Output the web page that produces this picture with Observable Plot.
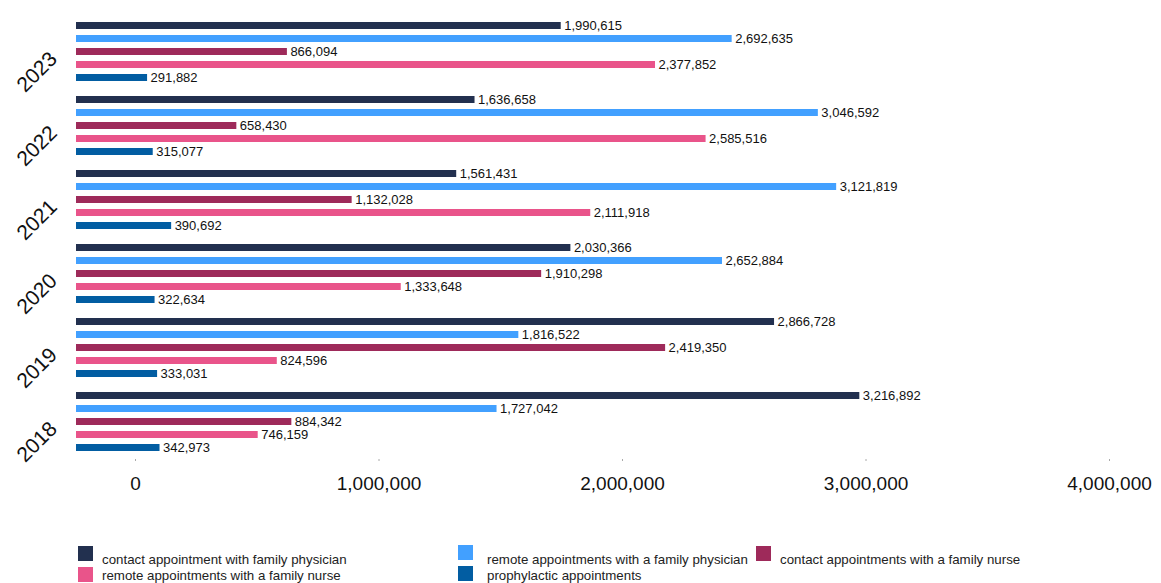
<!DOCTYPE html>
<html>
<head>
<meta charset="utf-8">
<script src="https://cdn.jsdelivr.net/npm/d3@7"></script>
<script src="https://cdn.jsdelivr.net/npm/@observablehq/plot@0.6"></script>
<style>
  body { margin: 0; background: #fff; font-family: "Liberation Sans", Arial, sans-serif; }
  #wrap { position: relative; width: 1161px; height: 583px; overflow: hidden; }
  .lg { position: absolute; font-size: 13.3px; color: #222; white-space: nowrap; }
  .sw { position: absolute; width: 15px; height: 15px; }
</style>
</head>
<body>
<div id="wrap"></div>
<script>
const years = ["2018", "2019", "2020", "2021", "2022", "2023"];
const seriesNames = [
  "contact appointment with family physician",
  "remote appointments with a family physician",
  "contact appointments with a family nurse",
  "remote appointments with a family nurse",
  "prophylactic appointments"
];
const colors = ["#22304f", "#42a0ff", "#9e2a5a", "#e9548a", "#025da2"];
const contactPhysician = [3216892, 2866728, 2030366, 1561431, 1636658, 1990615];
const remotePhysician  = [1727042, 1816522, 2652884, 3121819, 3046592, 2692635];
const contactNurse     = [884342, 2419350, 1910298, 1132028, 658430, 866094];
const remoteNurse      = [746159, 824596, 1333648, 2111918, 2585516, 2377852];
const prophylactic     = [342973, 333031, 322634, 390692, 315077, 291882];
const xTicks = [0, 1000000, 2000000, 3000000, 4000000];

const seriesValues = [contactPhysician, remotePhysician, contactNurse, remoteNurse, prophylactic];
const data = [];
years.forEach((yr, i) => {
  seriesNames.forEach((s, j) => data.push({year: yr, series: s, value: seriesValues[j][i]}));
});

const fmt = d3.format(",");
const chart = Plot.plot({
  width: 1161,
  height: 520,
  marginLeft: 76,
  marginRight: 111,
  marginTop: 15,
  marginBottom: 61,
  style: {fontFamily: '"Liberation Sans", Arial, sans-serif', color: "#111", background: "transparent"},
  x: {domain: [0, 4000000], axis: null},
  y: {domain: seriesNames, padding: 0.45, paddingOuter: 0.48, axis: null},
  fy: {domain: years.slice().reverse(), padding: 0, label: null},
  color: {domain: seriesNames, range: colors},
  marks: [
    Plot.barX(data, {x: "value", y: "series", fy: "year", fill: "series"}),
    Plot.text(data, {x: "value", y: "series", fy: "year", text: d => fmt(d.value),
      textAnchor: "start", dx: 3, fontSize: 13, fill: "#111"}),
    Plot.axisFy({anchor: "left", tickRotate: -45, fontSize: 21, tickSize: 0, tickPadding: 23, dy: 3, label: null}),
    Plot.axisX({ticks: xTicks, tickFormat: fmt, tickSize: 2, stroke: "#aaa", tickPadding: 15, fontSize: 19, dx: 59, label: null, facetAnchor: "bottom"})
  ]
});
const wrap = document.getElementById("wrap");
wrap.appendChild(chart);

const legendItems = [
  {i: 0, sx: 78, sy: 546, tx: 102, ty: 552},
  {i: 1, sx: 458, sy: 545, tx: 487, ty: 552},
  {i: 2, sx: 756, sy: 546, tx: 780, ty: 552},
  {i: 3, sx: 78, sy: 567, tx: 102, ty: 568},
  {i: 4, sx: 458, sy: 566, tx: 487, ty: 568}
];
legendItems.forEach(it => {
  const sw = document.createElement("div");
  sw.className = "sw";
  sw.style.left = it.sx + "px"; sw.style.top = it.sy + "px";
  sw.style.background = colors[it.i];
  wrap.appendChild(sw);
  const t = document.createElement("div");
  t.className = "lg";
  t.style.left = it.tx + "px"; t.style.top = it.ty + "px";
  t.textContent = seriesNames[it.i];
  wrap.appendChild(t);
});
</script>
</body>
</html>
